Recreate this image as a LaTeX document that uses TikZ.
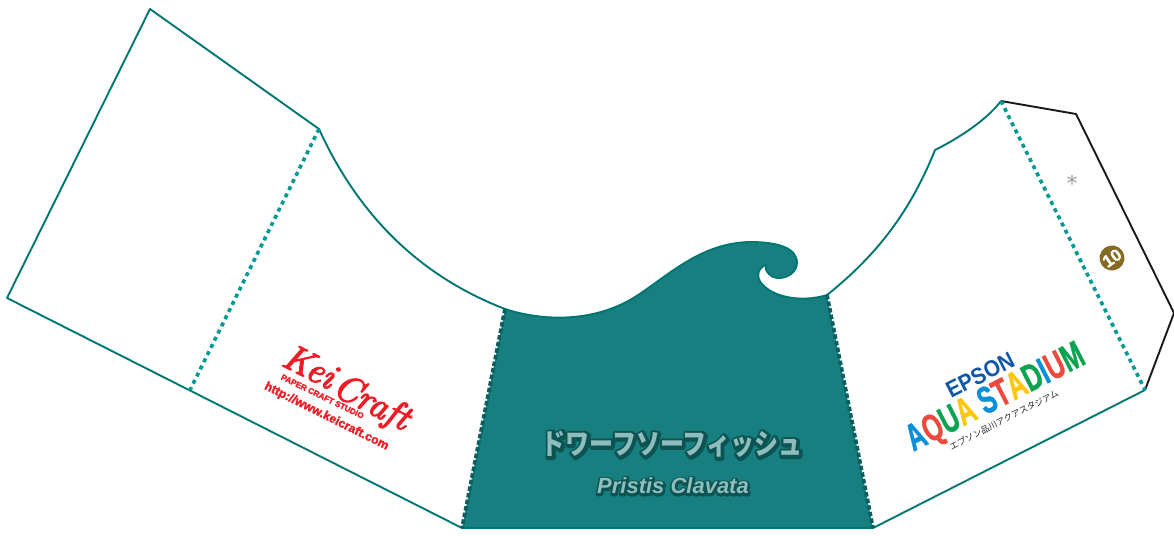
\documentclass[tikz,border=0pt]{standalone}
\usepackage{fontspec}
\usetikzlibrary{calc}
\setmainfont{Liberation Sans}
\newfontfamily\cjkblack{Noto Sans CJK JP Black}
\newfontfamily\cjkout[FakeBold=6]{Noto Sans CJK JP Black}
\newfontfamily\latinout[FakeBold=5]{Liberation Sans Bold Italic}
\newfontfamily\cjklight{Noto Sans CJK JP}
\newfontfamily\heavy[FakeBold=1.2]{Liberation Sans Bold}
\newfontfamily\keifont[ItalicFeatures={FakeBold=3.5}]{Latin Modern Roman}
\newfontfamily\keismall[FakeBold=2]{Liberation Sans Bold}
\newfontfamily\djv{DejaVu Sans}
\definecolor{edge}{HTML}{007672}
\definecolor{wave}{HTML}{187F80}
\definecolor{fold}{HTML}{009A94}
\definecolor{darkfold}{HTML}{0B5F5E}
\definecolor{titlelight}{HTML}{8FBDBD}
\definecolor{titledark}{HTML}{0C5453}
\definecolor{keired}{HTML}{EE1C25}
\definecolor{badgefill}{HTML}{856A21}
\definecolor{epblue}{HTML}{0F57A8}
\definecolor{apb}{HTML}{0A8FD8}
\definecolor{apr}{HTML}{EB4A3C}
\definecolor{apy}{HTML}{FFC60B}
\definecolor{apg}{HTML}{0BA34F}
\tikzset{
 cutline/.style={draw=edge,line width=1.9pt,line join=round},
 blackcut/.style={draw=black!90,line width=1.9pt,line join=miter},
 foldline/.style={draw=fold,line width=3.6pt,dash pattern=on 4pt off 4pt},
 darkline/.style={draw=darkfold,line width=3.8pt,dash pattern=on 4.5pt off 2.2pt},
 lbl/.style={inner sep=0pt,outer sep=0pt,anchor=center},
}
\begin{document}
\begin{tikzpicture}[x=1pt,y=-1pt]
\useasboundingbox (0,0) rectangle (1174,535);
\coordinate (tl) at (150,9);
\coordinate (fa) at (319,129);
\coordinate (fb) at (190,390);
\coordinate (ll) at (7,298);
\coordinate (wl) at (505,309);
\coordinate (bl) at (462,528);
\coordinate (br) at (873,528);
\coordinate (wr) at (827,295);
\coordinate (kn) at (935,150);
\coordinate (ra) at (1001,101);
\coordinate (rb) at (1076,114);
\coordinate (rc) at (1174,313);
\coordinate (rd) at (1145,390);
% teal panel
\fill[wave] (wl) .. controls (545,322) and (595,322) .. (635,297)
  .. controls (668,276) and (700,243) .. (750,242)
  .. controls (778,242) and (797,248) .. (797,263)
  .. controls (797,276) and (777,283) .. (769,274)
  .. controls (766,271) and (765,268) .. (766,265)
  .. controls (757,268) and (756,278) .. (762,284)
  .. controls (775,299) and (805,302) .. (wr)
  -- (br) -- (bl) -- cycle;
\draw[cutline] (wl) .. controls (545,322) and (595,322) .. (635,297)
  .. controls (668,276) and (700,243) .. (750,242)
  .. controls (778,242) and (797,248) .. (797,263)
  .. controls (797,276) and (777,283) .. (769,274)
  .. controls (766,271) and (765,268) .. (766,265)
  .. controls (757,268) and (756,278) .. (762,284)
  .. controls (775,299) and (805,302) .. (wr);
\draw[cutline] (wl) .. controls (425,278) and (361,221) .. (fa) -- (tl) -- (ll) -- (bl) -- (br) -- (rd);
\draw[cutline] (wr) .. controls (877,255) and (910,212) .. (kn)
  .. controls (955,140) and (985,122) .. (ra);
\draw[blackcut] (ra) -- (rb) -- (rc) -- (rd);
\draw[foldline] (fa) -- (fb);
\draw[foldline] (ra) -- (rd);
\draw[darkline] (wl) -- (bl);
\draw[darkline] (wr) -- (br);
% title with dark outline
\foreach \a in {0,45,...,315}{
  \node[lbl,text=titledark] (titleback\a) at ($(672.5,445)+(\a:2.2)$) {\scalebox{1}[1.2]{\fontsize{24}{24}\cjkout ドワーフソーフィッシュ}};
  \node[lbl,text=titledark] (latinback\a) at ($(673.3,486.4)+(\a:1.6)$) {\fontsize{22}{22}\latinout Pristis Clavata};
}
\node[lbl,text=titlelight] (title) at (672,444) {\scalebox{1}[1.2]{\fontsize{24}{24}\cjkblack ドワーフソーフィッシュ}};
\node[lbl,text=titlelight] (latin) at (673,486) {\fontsize{22}{22}\bfseries\itshape Pristis Clavata};
% Kei Craft logo
\node[lbl,text=keired,rotate=-27] (kei) at (310,366) {\fontsize{37}{37}\keifont\itshape Kei};
\node[lbl,text=keired,rotate=-27] (craft) at (371,404) {\fontsize{37}{37}\keifont\itshape Craft};
\node[lbl,text=keired,rotate=-26] (studio) at (322.5,396.5) {\fontsize{8.2}{8.2}\keismall PAPER CRAFT STUDIO};
\node[lbl,text=keired,rotate=-26.5] (url) at (326.5,416.5) {\fontsize{12.2}{12.2}\keismall http://www.keicraft.com};
\node[lbl,text=keired] (reg) at (411,417) {\fontsize{6}{6}\selectfont ®};
% Aqua Stadium logo
\node[lbl,text=epblue,rotate=27] (epson) at (980,375) {\scalebox{.95}[1.05]{\fontsize{22}{22}\bfseries EPSON}};
\node[lbl,rotate=27] (aqua) at (996,399) {\scalebox{0.66}[1]{\fontsize{38}{38}\heavy\textcolor{apb}{A}\textcolor{apr}{Q}\textcolor{apg}{U}\textcolor{apy}{A} \textcolor{apb}{S}\textcolor{apr}{T}\textcolor{apy}{A}\textcolor{apg}{D}\textcolor{apb}{I}\textcolor{apr}{U}\textcolor{apg}{M}}};
\node[lbl,rotate=27,text=black!85] (aquajp) at (1004,420) {\fontsize{8.7}{8.7}\cjklight エプソン品川アクアスタジアム};
% star and badge
\node[lbl,text=black!40] (star) at (1072,183) {\fontsize{22}{22}\djv *};
\node[circle,fill=badgefill,minimum size=25pt,inner sep=0pt,rotate=35,text=white] (badge) at (1112,258) {\fontsize{17}{17}\heavy 10};
\end{tikzpicture}
\end{document}
